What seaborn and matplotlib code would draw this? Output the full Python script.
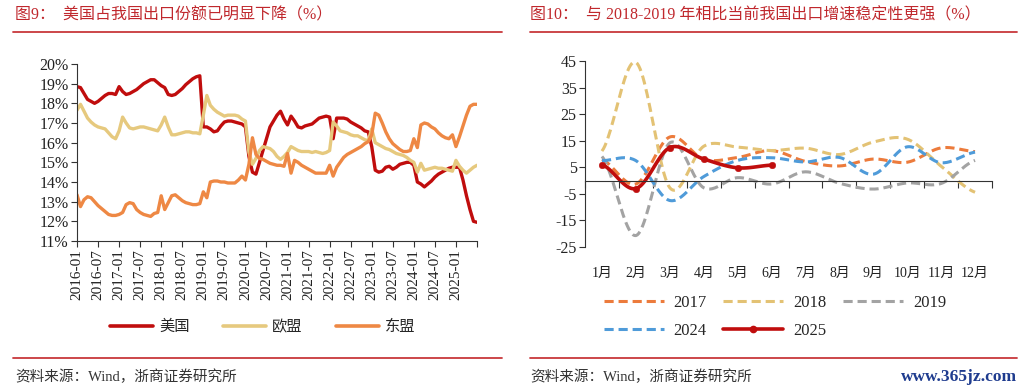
import numpy as np
import pandas as pd
import matplotlib.pyplot as plt
import seaborn as sns
from matplotlib.lines import Line2D

# ---- data: left chart, share of China's exports (%), monthly 2016-01 .. 2025-07
us = [18.85, 18.8, 18.5, 18.2, 18.1, 18.0, 18.1, 18.25, 18.4, 18.5, 18.5, 18.45,
      18.85, 18.6, 18.45, 18.5, 18.6, 18.7, 18.85, 19.0, 19.1, 19.2, 19.2, 19.05,
      18.9, 18.8, 18.45, 18.4, 18.45, 18.6, 18.75, 18.95, 19.1, 19.25, 19.35, 19.4,
      16.8, 16.8, 16.7, 16.55, 16.6, 16.85, 17.05, 17.1, 17.1, 17.05, 17.0, 16.95,
      16.8, 15.3, 14.5, 14.4, 15.0, 15.6, 16.2, 16.8, 17.1, 17.4, 17.6, 17.2,
      16.9, 17.35, 17.1, 16.8, 16.75, 16.85, 16.9, 16.95, 17.1, 17.25, 17.3, 17.35,
      17.3, 16.2, 17.25, 17.25, 17.25, 17.2, 17.05, 16.95, 16.85, 16.75, 16.6, 16.55,
      15.8, 14.6, 14.5, 14.55, 14.75, 14.8, 14.65, 14.75, 14.9, 14.95, 15.0, 15.0,
      14.85, 14.0, 13.9, 13.75, 13.9, 14.05, 14.25, 14.4, 14.5, 14.6, 14.7, 14.75,
      14.75, 14.75, 14.1, 13.3, 12.6, 12.0, 11.95]
eu = [17.65, 17.95, 17.6, 17.25, 17.05, 16.9, 16.8, 16.75, 16.7, 16.5, 16.3, 16.2,
      16.6, 17.3, 17.0, 16.75, 16.7, 16.75, 16.8, 16.8, 16.75, 16.7, 16.65, 16.6,
      16.9, 17.3, 16.8, 16.4, 16.4, 16.45, 16.5, 16.55, 16.55, 16.5, 16.5, 16.45,
      17.4, 18.4, 17.9, 17.7, 17.55, 17.45, 17.35, 17.4, 17.4, 17.4, 17.35, 17.2,
      17.1, 15.5, 14.9, 15.2, 15.6, 15.8, 15.75, 15.7, 15.55, 15.3, 15.15, 15.3,
      15.5, 15.8, 15.7, 15.6, 15.55, 15.55, 15.55, 15.5, 15.55, 15.5, 15.45, 15.5,
      15.6, 17.05, 16.85, 16.6, 16.55, 16.5, 16.4, 16.35, 16.35, 16.25, 16.15, 16.1,
      16.7, 16.0, 15.9, 15.8, 15.7, 15.65, 15.55, 15.45, 15.4, 15.35, 15.25, 15.1,
      15.0, 14.5, 14.95, 14.6, 14.65, 14.7, 14.75, 14.7, 14.7, 14.65, 14.6, 14.55,
      15.1, 14.8, 14.6, 14.45, 14.6, 14.75, 14.85]
asean = [13.35, 12.75, 13.1, 13.25, 13.2, 13.0, 12.8, 12.65, 12.5, 12.35, 12.3, 12.3,
         12.35, 12.45, 12.85, 12.95, 12.9, 12.6, 12.45, 12.35, 12.3, 12.25, 12.4, 12.45,
         13.3, 12.6, 12.95, 13.3, 13.35, 13.2, 13.05, 12.95, 12.9, 12.85, 12.85, 12.9,
         13.5, 13.2, 14.0, 14.05, 14.05, 14.0, 14.0, 13.95, 13.95, 13.95, 14.1, 14.3,
         14.1, 14.9, 16.25, 15.4, 15.2, 15.15, 15.05, 14.95, 14.9, 14.85, 14.85, 14.8,
         15.45, 14.45, 15.1, 15.0, 14.85, 14.75, 14.65, 14.55, 14.45, 14.45, 14.45, 14.45,
         14.85, 14.3, 14.75, 15.0, 15.25, 15.4, 15.5, 15.6, 15.7, 15.8, 15.95, 16.05,
         16.4, 17.5, 17.4, 17.0, 16.55, 16.2, 15.95, 15.8, 15.65, 15.55, 15.55, 15.6,
         16.2, 15.75, 16.9, 17.0, 16.95, 16.8, 16.7, 16.5, 16.35, 16.25, 16.2, 16.4,
         15.8, 16.3, 16.85, 17.4, 17.85, 17.95, 17.95]
months = pd.date_range('2016-01-01', periods=len(us), freq='MS').strftime('%Y-%m')

# ---- data: right chart, export growth yoy (%)
month_labels = ['1月', '2月', '3月', '4月', '5月', '6月', '7月', '8月', '9月', '10月', '11月', '12月']
g2017 = [7.9, -1.3, 16.4, 8.0, 8.7, 11.3, 7.2, 5.5, 8.1, 6.9, 12.3, 10.9]
g2018 = [11.1, 44.5, -2.7, 12.9, 12.6, 11.3, 12.2, 9.8, 14.5, 15.6, 5.4, -4.4]
g2019 = [9.1, -20.7, 14.2, -2.7, 1.1, -1.3, 3.3, -1.0, -3.2, -0.9, -1.1, 7.6]
g2024 = [7.5, 7.5, -7.5, 1.5, 7.6, 8.6, 7.0, 8.7, 2.4, 12.7, 6.7, 10.7]
g2025 = [6.0, -3.0, 12.4, 8.1, 4.8, 5.8]

RED = '#c0282d'
sns.set_style('ticks')
plt.rcParams['font.family'] = ['Liberation Serif', 'Noto Sans CJK SC']
plt.rcParams['axes.unicode_minus'] = False


def smooth(y, n=24):
    # Catmull-Rom curve through the points (Excel "smoothed line" look)
    y = np.asarray(y, float)
    p = np.r_[y[0], y, y[-1]]
    t = np.linspace(0, 1, n, endpoint=False)
    xs, ys = [], []
    for k in range(len(y) - 1):
        p0, p1, p2, p3 = p[k], p[k + 1], p[k + 2], p[k + 3]
        ys.append(0.5 * (2 * p1 + (-p0 + p2) * t + (2 * p0 - 5 * p1 + 4 * p2 - p3) * t ** 2
                         + (-p0 + 3 * p1 - 3 * p2 + p3) * t ** 3))
        xs.append(k + t)
    xs.append([len(y) - 1])
    ys.append([y[-1]])
    return np.concatenate(xs), np.concatenate(ys)


fig = plt.figure(figsize=(10.24, 3.9), dpi=100)

# ---------------- left chart ----------------
ax1 = fig.add_axes([77 / 1024, 1 - 241 / 390, 400 / 1024, 177 / 390])
df1 = pd.DataFrame({'idx': np.arange(len(us)), '美国': us, '欧盟': eu, '东盟': asean})
df1 = df1.melt(id_vars='idx', var_name='地区', value_name='份额')
pal1 = {'美国': '#c00d0d', '欧盟': '#e6c97e', '东盟': '#ee8844'}
sns.lineplot(data=df1, x='idx', y='份额', hue='地区', palette=pal1, lw=2.4,
             ax=ax1, legend=False, estimator=None, sort=False)
ax1.set_xlim(0, len(us) - 1)
ax1.set_ylim(11, 20)
ax1.set_yticks(range(11, 21))
ax1.set_yticklabels([f'{v}%' for v in range(11, 21)], fontsize=11.5)
ticks = list(range(0, len(us), 6))
ax1.set_xticks(ticks)
ax1.set_xticklabels([months[i] if i <= 108 else '' for i in ticks], rotation=90, fontsize=11)
ax1.set_xlabel('')
ax1.set_ylabel('')
ax1.tick_params(length=4, width=0.8, color='#333333', labelcolor='#222222', pad=2)
for s in ['top', 'right']:
    ax1.spines[s].set_visible(False)
for s in ['left', 'bottom']:
    ax1.spines[s].set_color('#333333')
    ax1.spines[s].set_linewidth(0.8)
h1 = [Line2D([], [], color=pal1[k], lw=2.6) for k in ['美国', '欧盟', '东盟']]
fig.legend(h1, ['美国', '欧盟', '东盟'], loc='center', bbox_to_anchor=(263 / 1024, 1 - 327 / 390),
           ncol=3, frameon=False, fontsize=11, handlelength=2.8, columnspacing=2.2, handletextpad=0.4)

# ---------------- right chart ----------------
ax2 = fig.add_axes([585 / 1024, 1 - 247 / 390, 407 / 1024, 186 / 390])
series = {'2017': g2017, '2018': g2018, '2019': g2019, '2024': g2024, '2025': g2025}
pal2 = {'2017': '#ec7b3c', '2018': '#e3c274', '2019': '#a3a3a3', '2024': '#4f9bd9', '2025': '#c00d0d'}
rows = []
for name, vals in series.items():
    sx, sy = smooth(vals)
    rows.append(pd.DataFrame({'月': sx, '增速': sy, '年份': name}))
df2 = pd.concat(rows, ignore_index=True)
dash = {'2017': (3, 1.6), '2018': (3, 1.6), '2019': (3, 1.6), '2024': (3, 1.6), '2025': ''}
sns.lineplot(data=df2, x='月', y='增速', hue='年份', style='年份', palette=pal2, dashes=dash,
             lw=2.2, ax=ax2, legend=False, estimator=None, sort=False)
for ln in ax2.lines:
    if ln.get_color() == pal2['2025'] or ln.get_linestyle() == '-':
        ln.set_linewidth(2.6)
sns.scatterplot(x=np.arange(len(g2025)), y=g2025, color=pal2['2025'], s=22,
                edgecolor=pal2['2025'], ax=ax2, zorder=5)
ax2.set_xlim(-0.5, 11.5)
ax2.set_ylim(-25, 45)
ax2.set_yticks(range(-25, 46, 10))
ax2.set_yticklabels([str(v) for v in range(-25, 46, 10)], fontsize=11.5)
ax2.set_xticks(np.arange(-0.5, 12, 1))
ax2.set_xticklabels([])
ax2.set_xticks(np.arange(12), minor=True)
ax2.set_xticklabels(month_labels, minor=True, fontsize=11)
ax2.tick_params(axis='x', which='minor', length=0, pad=62)
ax2.tick_params(axis='x', which='major', length=5, width=0.8, color='#333333')
ax2.tick_params(axis='y', length=4, width=0.8, color='#333333', pad=2)
ax2.tick_params(labelcolor='#222222', which='both')
ax2.spines['bottom'].set_position(('data', 0))
for s in ['top', 'right']:
    ax2.spines[s].set_visible(False)
for s in ['left', 'bottom']:
    ax2.spines[s].set_color('#333333')
    ax2.spines[s].set_linewidth(0.8)
ax2.set_xlabel('')
ax2.set_ylabel('')
hd = {k: Line2D([], [], color=pal2[k], lw=2.2, ls=(0, (3, 1.6))) for k in ['2017', '2018', '2019', '2024']}
hd['2025'] = Line2D([], [], color=pal2['2025'], lw=2.6, marker='o', ms=4.5)
order = ['2017', '2024', '2018', '2025', '2019']
fig.legend([hd[k] for k in order], order, loc='center', bbox_to_anchor=(775 / 1024, 1 - 317 / 390),
           ncol=3, frameon=False, fontsize=12, handlelength=3.6, columnspacing=1.0,
           handletextpad=0.6, labelspacing=0.75)

# ---------------- titles, rules, source notes ----------------
fig.text(15 / 1024, 1 - 15 / 390, '图9：  美国占我国出口份额已明显下降（%）', color=RED,
         fontsize=11.5, va='center', ha='left')
fig.text(530 / 1024, 1 - 15 / 390, '图10：  与 2018-2019 年相比当前我国出口增速稳定性更强（%）',
         color=RED, fontsize=11.5, va='center', ha='left')
for x0, x1 in [(13, 502), (530, 1017)]:
    for yy in (32, 358):
        fig.add_artist(Line2D([x0 / 1024, x1 / 1024], [1 - yy / 390] * 2, color='#c8383c', lw=1.3))
fig.text(15 / 1024, 1 - 377 / 390, '资料来源：Wind，浙商证券研究所', color='#333333',
         fontsize=10.5, va='center', ha='left')
fig.text(530 / 1024, 1 - 377 / 390, '资料来源：Wind，浙商证券研究所', color='#333333',
         fontsize=10.5, va='center', ha='left')
fig.text(1017 / 1024, 1 - 377 / 390, 'www.365jz.com', color='#1f3c8f', fontsize=12.5,
         fontweight='bold', va='center', ha='right')

fig.savefig('out.png', dpi=100)
